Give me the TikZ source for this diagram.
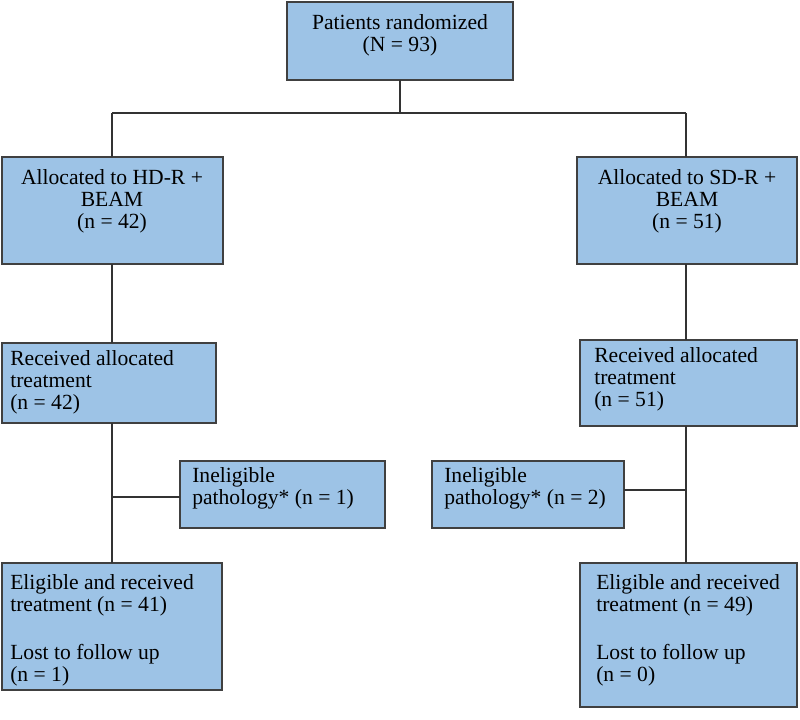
\documentclass[tikz,border=0pt]{standalone}
\usepackage{fontspec}
\setmainfont{Liberation Serif}
\begin{document}
\begin{tikzpicture}[x=0.75pt,y=-0.75pt,
 bx/.style={draw=black!75,fill=boxblue,line width=0.8pt},
 ln/.style={draw=black!80,line width=0.9pt},
 tx/.style={font=\fontsize{16.2}{16.5}\selectfont,align=left,anchor=north west,inner sep=0pt},
 tc/.style={font=\fontsize{16.2}{16.5}\selectfont,align=center,inner sep=0pt}]
\definecolor{boxblue}{HTML}{9DC3E6}
\useasboundingbox (0,0) rectangle (800,719);
% boxes
\path[bx] (287,2) rectangle (513,80); \node[tc] (top) at (400,35) {Patients randomized\\(N = 93)};
\path[bx] (2,157) rectangle (223,264); \node[tc] (la) at (112,201) {Allocated to HD-R +\\BEAM\\(n = 42)};
\path[bx] (577,157) rectangle (797,264); \node[tc] (ra) at (687,201) {Allocated to SD-R +\\BEAM\\(n = 51)};
\path[bx] (2,343) rectangle (216,423); \node[tx] (lr) at (10,350) {Received allocated\\treatment\\(n = 42)};
\path[bx] (580,340) rectangle (797,426); \node[tx] (rr) at (594,347) {Received allocated\\treatment\\(n = 51)};
\path[bx] (180,461) rectangle (385,528); \node[tx] (li) at (192,467) {Ineligible\\pathology* (n = 1)};
\path[bx] (432,461) rectangle (624,528); \node[tx] (ri) at (444,467) {Ineligible\\pathology* (n = 2)};
\path[bx] (2,563) rectangle (222,690); \node[tx] (lb) at (10,574) {Eligible and received\\treatment (n = 41)\\[20pt]Lost to follow up\\(n = 1)};
\path[bx] (580,563) rectangle (797,707); \node[tx] (rb) at (596,574) {Eligible and received\\treatment (n = 49)\\[20pt]Lost to follow up\\(n = 0)};
% connectors
\coordinate (t1) at (400,80); \coordinate (t2) at (400,113);
\coordinate (h1) at (112,113); \coordinate (h2) at (686,113);
\draw[ln] (t1) -- (t2) (h1) -- (h2);
\draw[ln] (h1) -- (112,157) (h2) -- (686,157);
\draw[ln] (112,264) -- (112,343) (112,423) -- (112,563) (112,497) -- (180,497);
\draw[ln] (686,264) -- (686,340) (686,426) -- (686,563) (686,490) -- (624,490);
\end{tikzpicture}
\end{document}
